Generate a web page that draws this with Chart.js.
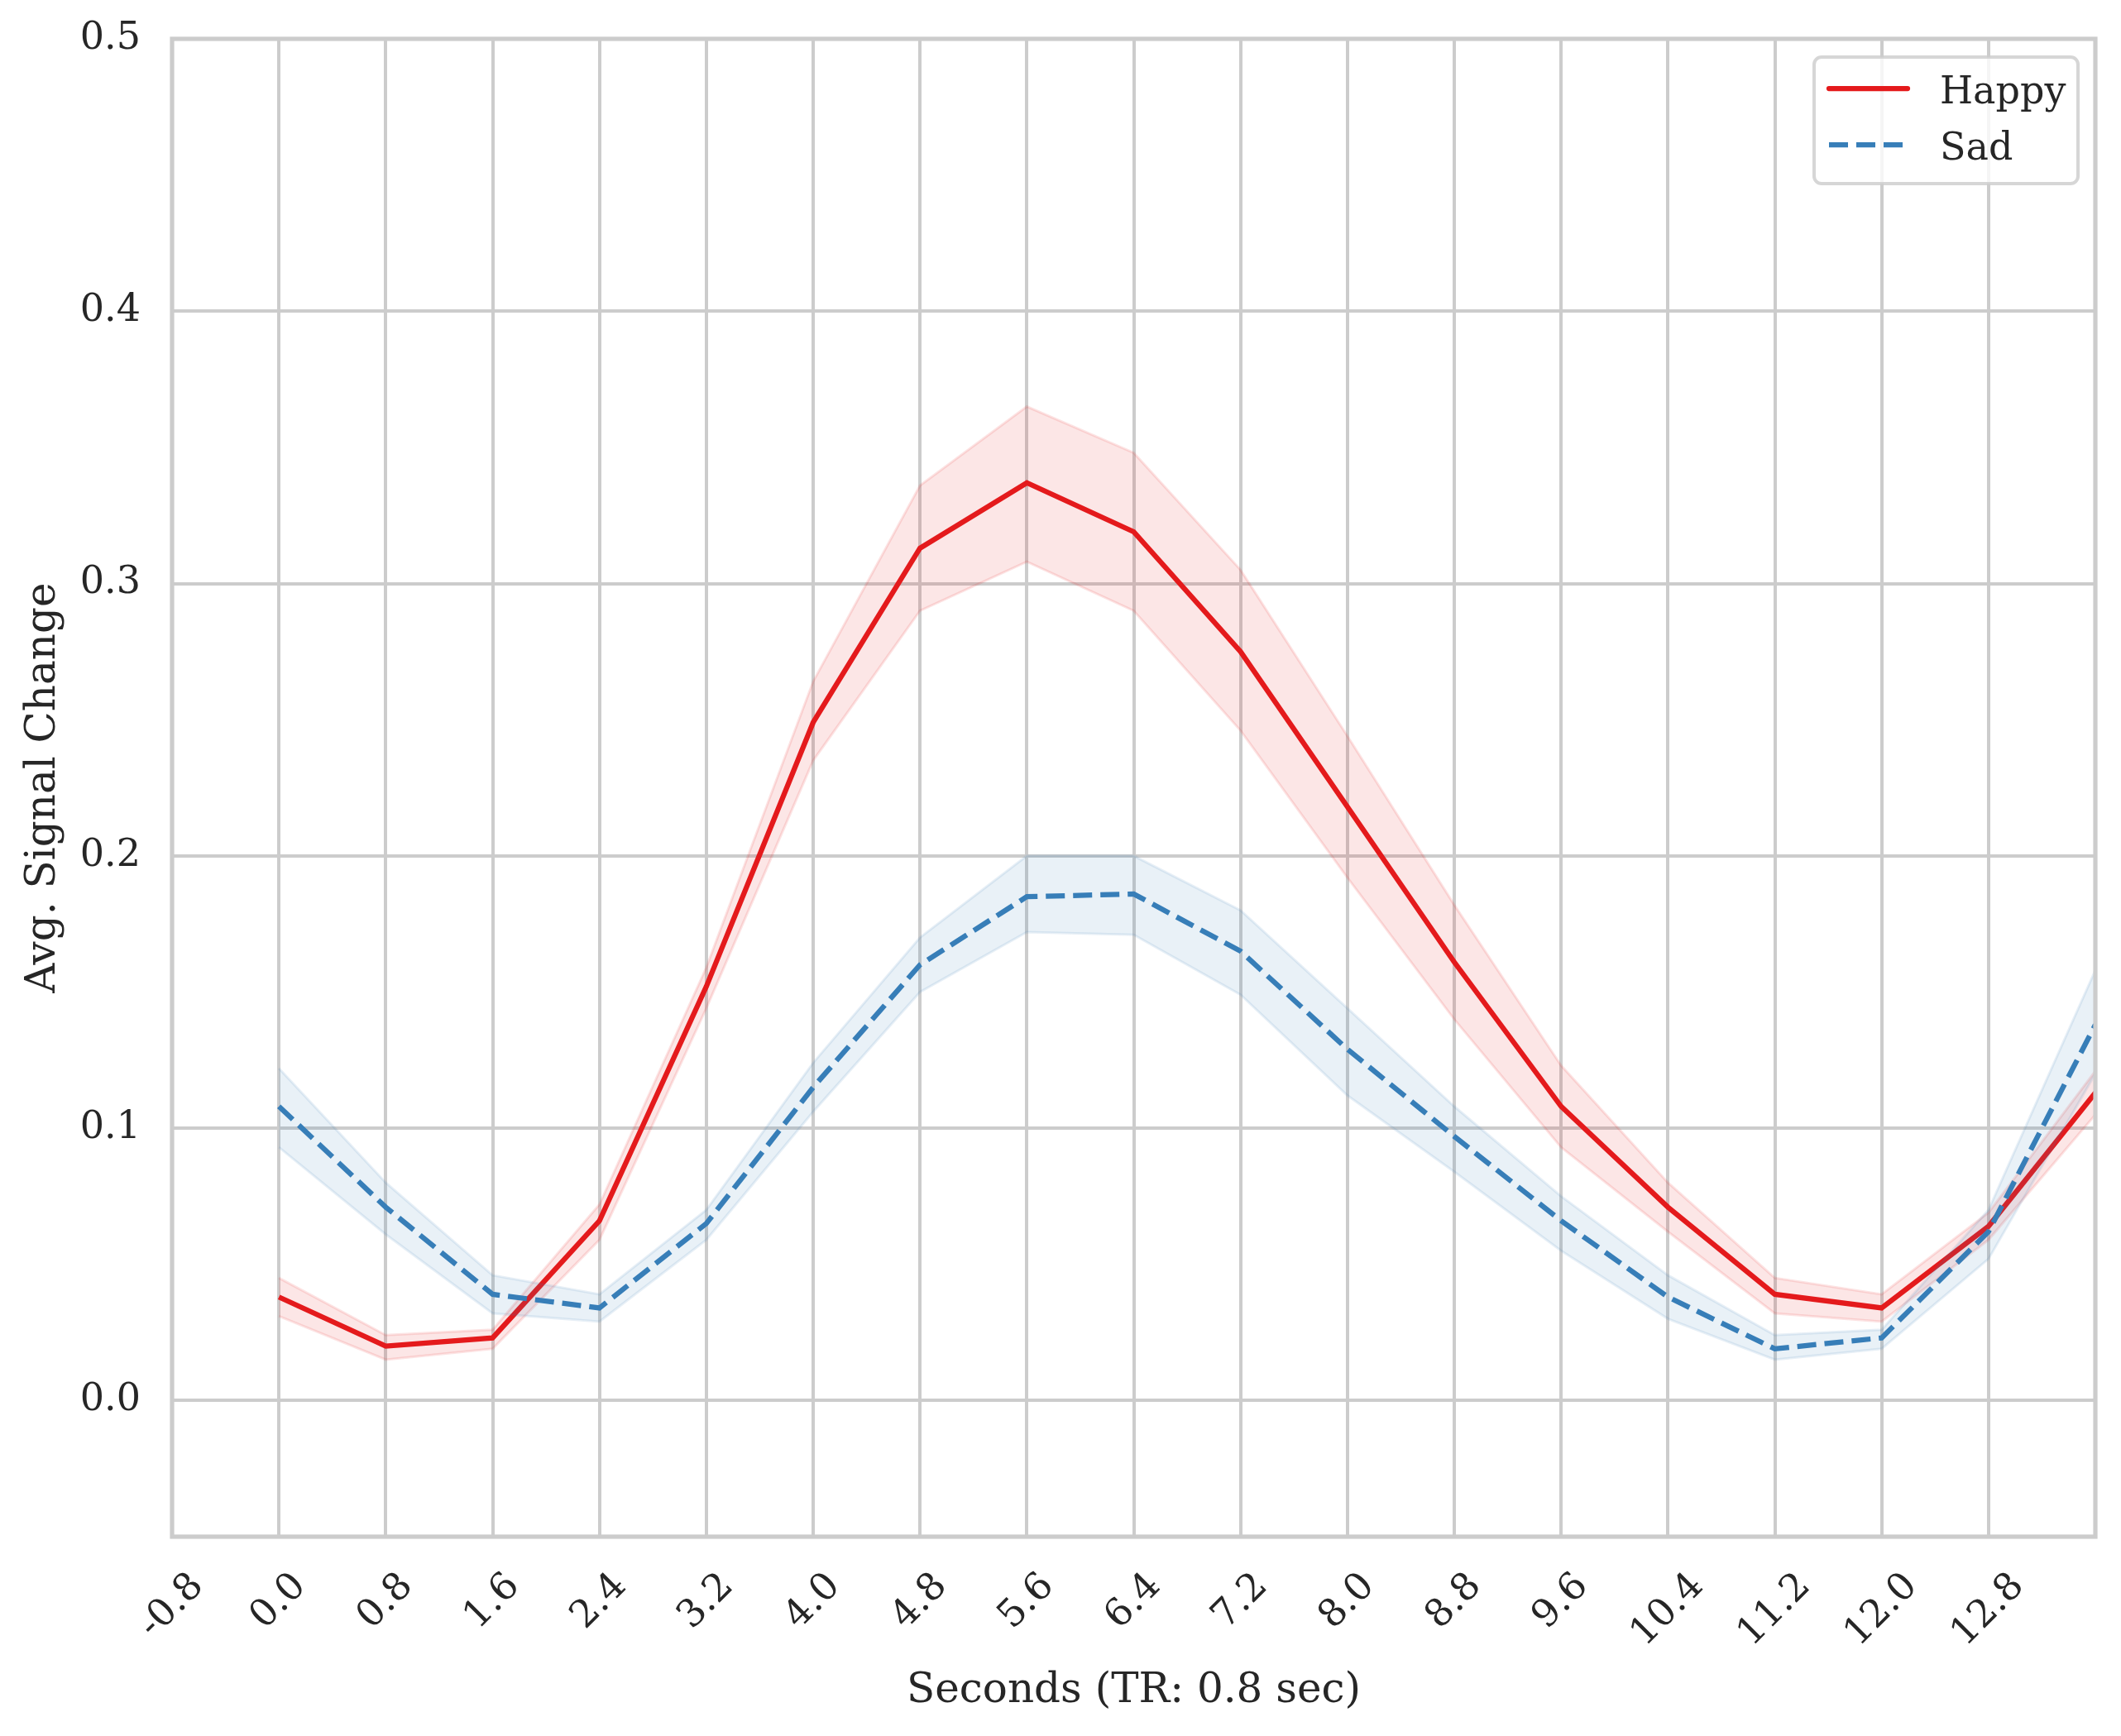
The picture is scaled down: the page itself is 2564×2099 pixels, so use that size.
<!DOCTYPE html>
<html>
<head>
<meta charset="utf-8">
<script src="https://cdn.jsdelivr.net/npm/chart.js@4.4.1/dist/chart.umd.min.js"></script>
<style>
  html, body { margin: 0; padding: 0; background: #fff; }
  canvas { display: block; }
</style>
</head>
<body>
<canvas id="signalChart" width="2564" height="2099"></canvas>
<script>
// time points (seconds, TR = 0.8)
const seconds = [0.0, 0.8, 1.6, 2.4, 3.2, 4.0, 4.8, 5.6, 6.4, 7.2, 8.0, 8.8, 9.6, 10.4, 11.2, 12.0, 12.8, 13.6];

const happyMean  = [0.038, 0.020, 0.023, 0.066, 0.152, 0.249, 0.313, 0.337, 0.319, 0.275, 0.218, 0.161, 0.108, 0.071, 0.039, 0.034, 0.064, 0.113];
const happyUpper = [0.045, 0.024, 0.026, 0.072, 0.159, 0.264, 0.336, 0.365, 0.348, 0.305, 0.244, 0.182, 0.123, 0.080, 0.045, 0.039, 0.069, 0.121];
const happyLower = [0.031, 0.015, 0.019, 0.059, 0.144, 0.235, 0.290, 0.308, 0.290, 0.246, 0.192, 0.140, 0.093, 0.062, 0.032, 0.029, 0.059, 0.105];

const sadMean  = [0.108, 0.071, 0.039, 0.034, 0.065, 0.115, 0.160, 0.185, 0.186, 0.165, 0.129, 0.097, 0.066, 0.038, 0.019, 0.023, 0.062, 0.138];
const sadUpper = [0.122, 0.080, 0.046, 0.039, 0.070, 0.124, 0.170, 0.200, 0.200, 0.180, 0.144, 0.108, 0.075, 0.046, 0.024, 0.026, 0.070, 0.158];
const sadLower = [0.093, 0.061, 0.032, 0.029, 0.059, 0.106, 0.150, 0.172, 0.171, 0.149, 0.112, 0.084, 0.055, 0.030, 0.015, 0.019, 0.052, 0.120];

const xTickValues = [-0.8, 0.0, 0.8, 1.6, 2.4, 3.2, 4.0, 4.8, 5.6, 6.4, 7.2, 8.0, 8.8, 9.6, 10.4, 11.2, 12.0, 12.8];
const yTickValues = [0.0, 0.1, 0.2, 0.3, 0.4, 0.5];
const legendOrder = ['Happy', 'Sad'];

const FONT = "'DejaVu Serif', 'Liberation Serif', serif";
const TEXT = '#262626';
const GRID = '#cccccc';

function pts(ys) {
    return seconds.map((x, i) => ({ x: x, y: ys[i] }));
}

function bandSet(label, ys, rgb, fill) {
    return {
        label: label,
        band: true,
        data: pts(ys),
        borderColor: 'rgba(' + rgb + ',0.12)',
        backgroundColor: 'rgba(' + rgb + ',0.11)',
        borderWidth: 3,
        pointRadius: 0,
        fill: fill
    };
}

// datasets are painted last-to-first, so Sad ends up on top like the original
var data = {
    datasets: [
        {
            label: 'Sad',
            data: pts(sadMean),
            borderColor: '#377eb8',
            borderWidth: 6.25,
            borderDash: [23, 10],
            pointRadius: 0,
            fill: false
        },
        bandSet('Sad upper', sadUpper, '55,126,184', '+1'),
        bandSet('Sad lower', sadLower, '55,126,184', false),
        {
            label: 'Happy',
            data: pts(happyMean),
            borderColor: '#e41a1c',
            borderWidth: 6.25,
            pointRadius: 0,
            fill: false
        },
        bandSet('Happy upper', happyUpper, '228,26,28', '+1'),
        bandSet('Happy lower', happyLower, '228,26,28', false)
    ]
};

// spines round the plot area
var frame = {
    id: 'frame',
    afterDatasetsDraw(chart) {
        const { ctx, chartArea: { left, top, width, height } } = chart;
        ctx.save();
        ctx.strokeStyle = GRID;
        ctx.lineWidth = 5.2;
        ctx.strokeRect(left, top, width, height);
        ctx.restore();
    }
};

// rotated x tick labels, centred under each tick (matplotlib style)
var xLabels = {
    id: 'xLabels',
    afterDraw(chart) {
        const { ctx, chartArea: { bottom } } = chart;
        const xs = chart.scales.x;
        const size = 46;
        ctx.save();
        ctx.font = size + 'px ' + FONT;
        ctx.fillStyle = TEXT;
        ctx.textAlign = 'center';
        ctx.textBaseline = 'middle';
        xs.ticks.forEach(t => {
            const label = t.value.toFixed(1);
            const w = ctx.measureText(label).width;
            const cx = xs.getPixelForValue(t.value);
            const cy = bottom + 34 + (w + size * 1.164) * 0.3535;
            ctx.save();
            ctx.translate(cx, cy);
            ctx.rotate(-Math.PI / 4);
            ctx.fillText(label, 0, 0);
            ctx.restore();
        });
        ctx.restore();
    }
};

// legend box in the upper right corner
var cornerLegend = {
    id: 'cornerLegend',
    afterDraw(chart) {
        const { ctx, chartArea: { top, right } } = chart;
        const x0 = right - 21 - 319, y0 = top + 22, w = 319, h = 153;
        ctx.save();
        ctx.beginPath();
        ctx.roundRect(x0, y0, w, h, 9);
        ctx.fillStyle = 'rgba(255,255,255,0.8)';
        ctx.fill();
        ctx.strokeStyle = 'rgba(204,204,204,0.8)';
        ctx.lineWidth = 4;
        ctx.stroke();

        ctx.font = '46px ' + FONT;
        ctx.fillStyle = TEXT;
        ctx.textAlign = 'left';
        ctx.textBaseline = 'alphabetic';
        legendOrder.forEach((name, i) => {
            const ds = chart.data.datasets.find(d => d.label === name);
            const ly = y0 + 38 + i * 68;
            ctx.save();
            ctx.strokeStyle = ds.borderColor;
            ctx.lineWidth = ds.borderWidth;
            ctx.lineCap = ds.borderDash ? 'butt' : 'round';
            ctx.setLineDash(ds.borderDash || []);
            ctx.beginPath();
            ctx.moveTo(x0 + 18, ly);
            ctx.lineTo(x0 + 113, ly);
            ctx.stroke();
            ctx.restore();
            ctx.fillText(name, x0 + 152, ly + 18);
        });
        ctx.restore();
    }
};

const signalConfig = {
    type: 'line',
    data,
    options: {
        responsive: false,
        animation: false,
        layout: { padding: { top: 47, right: 31, left: 0, bottom: 0 } },
        elements: { line: { tension: 0 } },
        plugins: {
            legend: { display: false },
            tooltip: { enabled: false },
            filler: { propagate: false }
        },
        scales: {
            x: {
                type: 'linear',
                min: -0.8,
                max: 13.6,
                afterBuildTicks: s => { s.ticks = xTickValues.map(v => ({ value: v })); },
                afterFit: s => { s.height = 241; s.paddingLeft = 0; s.paddingRight = 0; },
                ticks: { display: false },
                grid: { color: GRID, lineWidth: 4, drawTicks: false },
                border: { display: false },
                title: {
                    display: true,
                    text: 'Seconds (TR: 0.8 sec)',
                    color: TEXT,
                    font: { family: FONT, size: 50 },
                    padding: { top: 0, bottom: 24 }
                }
            },
            y: {
                type: 'linear',
                min: -0.05,
                max: 0.5,
                afterBuildTicks: s => { s.ticks = yTickValues.map(v => ({ value: v })); },
                afterFit: s => { s.width = 208; s.paddingTop = 0; s.paddingBottom = 0; },
                ticks: {
                    callback: v => v.toFixed(1),
                    color: TEXT,
                    font: { family: FONT, size: 46 },
                    padding: 38
                },
                grid: { color: GRID, lineWidth: 4, drawTicks: false },
                border: { display: false },
                title: {
                    display: true,
                    text: 'Avg. Signal Change',
                    color: TEXT,
                    font: { family: FONT, size: 50 },
                    padding: { top: 23, bottom: 0 }
                }
            }
        }
    },
    plugins: [frame, xLabels, cornerLegend]
};

const signalChart = new Chart(
    document.getElementById('signalChart'),
    signalConfig
);
</script>
</body>
</html>
